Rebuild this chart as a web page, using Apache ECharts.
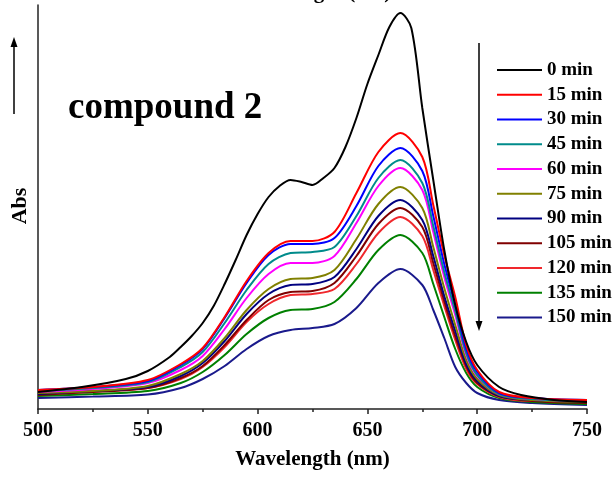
<!DOCTYPE html>
<html>
<head>
<meta charset="utf-8">
<script src="https://cdn.jsdelivr.net/npm/echarts@6/dist/echarts.min.js"></script>
<style>
  html, body { margin: 0; padding: 0; background: #fff; }
  #chart { width: 612px; height: 477px; }
</style>
</head>
<body>
<div id="chart"></div>
<script>
// wavelength grids (nm)
var waveBlack = [500, 520, 540, 550, 560, 565, 570, 575, 580, 585, 590, 595, 600, 605, 610, 615, 620, 625, 630, 635, 640, 645, 650, 655, 660, 665, 670, 675, 680, 685, 690, 695, 700, 710, 720, 735, 750];
var wave = [500, 525, 550, 565, 575, 585, 595, 605, 615, 625, 635, 645, 655, 665, 675, 680, 685, 690, 695, 700, 710, 725, 750];

var names = ["0 min", "15 min", "30 min", "45 min", "60 min", "75 min", "90 min", "105 min", "120 min", "135 min", "150 min"];
var colors = ["#000000", "#ff0000", "#0000ff", "#008b8b", "#ff00ff", "#808000", "#000080", "#800000", "#f0282d", "#008000", "#1a1a8c"];

// absorbance
var abs0 = [0.085, 0.110, 0.150, 0.190, 0.260, 0.310, 0.365, 0.430, 0.515, 0.625, 0.745, 0.870, 0.975, 1.060, 1.115, 1.145, 1.135, 1.120, 1.155, 1.205, 1.310, 1.455, 1.625, 1.770, 1.910, 1.980, 1.905, 1.505, 1.145, 0.795, 0.520, 0.335, 0.220, 0.110, 0.070, 0.045, 0.035];
var abs15 = [0.095, 0.110, 0.145, 0.225, 0.305, 0.460, 0.640, 0.780, 0.840, 0.840, 0.885, 1.080, 1.285, 1.380, 1.260, 1.020, 0.770, 0.560, 0.320, 0.195, 0.085, 0.055, 0.045];
var abs30 = [0.095, 0.110, 0.140, 0.220, 0.300, 0.455, 0.630, 0.770, 0.825, 0.825, 0.855, 1.015, 1.215, 1.305, 1.190, 0.965, 0.725, 0.520, 0.300, 0.185, 0.080, 0.055, 0.045];
var abs45 = [0.090, 0.105, 0.135, 0.210, 0.285, 0.430, 0.595, 0.725, 0.780, 0.785, 0.810, 0.965, 1.155, 1.245, 1.130, 0.915, 0.685, 0.490, 0.280, 0.170, 0.075, 0.050, 0.040];
var abs60 = [0.085, 0.100, 0.130, 0.195, 0.265, 0.400, 0.555, 0.675, 0.730, 0.730, 0.765, 0.930, 1.115, 1.205, 1.095, 0.885, 0.660, 0.470, 0.270, 0.165, 0.075, 0.050, 0.040];
var abs75 = [0.080, 0.090, 0.115, 0.175, 0.240, 0.355, 0.495, 0.600, 0.650, 0.655, 0.695, 0.850, 1.025, 1.110, 1.005, 0.810, 0.605, 0.420, 0.245, 0.150, 0.070, 0.045, 0.035];
var abs90 = [0.075, 0.090, 0.110, 0.165, 0.230, 0.340, 0.475, 0.575, 0.620, 0.625, 0.660, 0.800, 0.965, 1.045, 0.945, 0.765, 0.565, 0.390, 0.225, 0.140, 0.065, 0.045, 0.035];
var abs105 = [0.070, 0.085, 0.105, 0.155, 0.215, 0.320, 0.445, 0.545, 0.585, 0.590, 0.630, 0.765, 0.925, 1.005, 0.910, 0.730, 0.540, 0.365, 0.215, 0.130, 0.065, 0.040, 0.030];
var abs120 = [0.085, 0.090, 0.105, 0.150, 0.210, 0.310, 0.435, 0.525, 0.570, 0.575, 0.600, 0.725, 0.880, 0.960, 0.865, 0.695, 0.515, 0.345, 0.200, 0.125, 0.060, 0.040, 0.040];
var abs135 = [0.065, 0.075, 0.090, 0.130, 0.185, 0.270, 0.375, 0.455, 0.495, 0.500, 0.535, 0.650, 0.795, 0.870, 0.780, 0.625, 0.460, 0.300, 0.180, 0.110, 0.055, 0.035, 0.025];
var abs150 = [0.055, 0.062, 0.072, 0.105, 0.150, 0.215, 0.300, 0.365, 0.395, 0.405, 0.425, 0.505, 0.630, 0.700, 0.620, 0.495, 0.355, 0.210, 0.130, 0.080, 0.045, 0.030, 0.020];

var xTicks = [500, 550, 600, 650, 700, 750];

var allAbs = [abs0, abs15, abs30, abs45, abs60, abs75, abs90, abs105, abs120, abs135, abs150];
var serif = "'Liberation Serif', 'Times New Roman', serif";

function pairs(xs, ys) {
  return xs.map(function (x, i) { return [x, ys[i]]; });
}

var series = allAbs.map(function (ys, i) {
  return {
    name: names[i],
    type: "line",
    data: pairs(i === 0 ? waveBlack : wave, ys),
    smooth: 0.3,
    showSymbol: false,
    lineStyle: { color: colors[i], width: 2 },
    itemStyle: { color: colors[i] },
    z: 20 - i
  };
});

var chart = echarts.init(document.getElementById("chart"), null, { renderer: "canvas" });
chart.setOption({
  animation: false,
  backgroundColor: "#fff",
  grid: { left: 38, right: 25, top: 5, bottom: 68 },
  legend: {
    data: names,
    orient: "vertical",
    left: 492,
    top: 55,
    icon: "rect",
    itemWidth: 45,
    itemHeight: 2,
    itemGap: 4.75,
    textStyle: { fontFamily: serif, fontWeight: "bold", fontSize: 19, color: "#000", lineHeight: 20 }
  },
  xAxis: {
    type: "value",
    min: 500,
    max: 750,
    interval: 50,
    name: "Wavelength (nm)",
    nameLocation: "middle",
    nameGap: 40,
    nameTextStyle: { fontFamily: serif, fontWeight: "bold", fontSize: 21, color: "#000" },
    axisLine: { show: true, onZero: false, lineStyle: { color: "#222", width: 1.5 } },
    axisTick: { show: true, inside: false, length: 5, lineStyle: { color: "#222", width: 1.5 } },
    minorTick: { show: true, splitNumber: 2, length: 3, lineStyle: { color: "#222", width: 1.5 } },
    axisLabel: {
      margin: 12,
      fontFamily: serif, fontWeight: "bold", fontSize: 20, color: "#000",
      formatter: function (v) { return xTicks.indexOf(v) >= 0 ? String(v) : ""; }
    },
    splitLine: { show: false }
  },
  yAxis: {
    type: "value",
    min: 0,
    max: 2.02,
    axisLine: { show: true, lineStyle: { color: "#222", width: 1.5 } },
    axisTick: { show: false },
    axisLabel: { show: false },
    splitLine: { show: false }
  },
  graphic: [
    // cropped mirror title at the very top
    { type: "text", x: 314, y: 3, style: { text: "Wavelength (nm)", fontFamily: serif, fontWeight: "bold", fontSize: 21, fill: "#000", textAlign: "center", textVerticalAlign: "bottom" }, z: 100 },
    { type: "text", x: 68, y: 108, style: { text: "compound 2", fontFamily: serif, fontWeight: "bold", fontSize: 37, fill: "#000", textVerticalAlign: "middle" } },
    { type: "text", x: 20, y: 206, rotation: Math.PI / 2, style: { text: "Abs", fontFamily: serif, fontWeight: "bold", fontSize: 22, fill: "#000", textAlign: "center", textVerticalAlign: "middle" } },
    // up arrow
    { type: "line", shape: { x1: 14, y1: 114, x2: 14, y2: 44 }, style: { stroke: "#000", lineWidth: 1.5 } },
    { type: "polygon", shape: { points: [[14, 37], [10.5, 47], [17.5, 47]] }, style: { fill: "#000" } },
    // down arrow
    { type: "line", shape: { x1: 479, y1: 43, x2: 479, y2: 323 }, style: { stroke: "#000", lineWidth: 1.5 } },
    { type: "polygon", shape: { points: [[479, 331], [475.5, 321], [482.5, 321]] }, style: { fill: "#000" } }
  ],
  series: series
});
</script>
</body>
</html>
